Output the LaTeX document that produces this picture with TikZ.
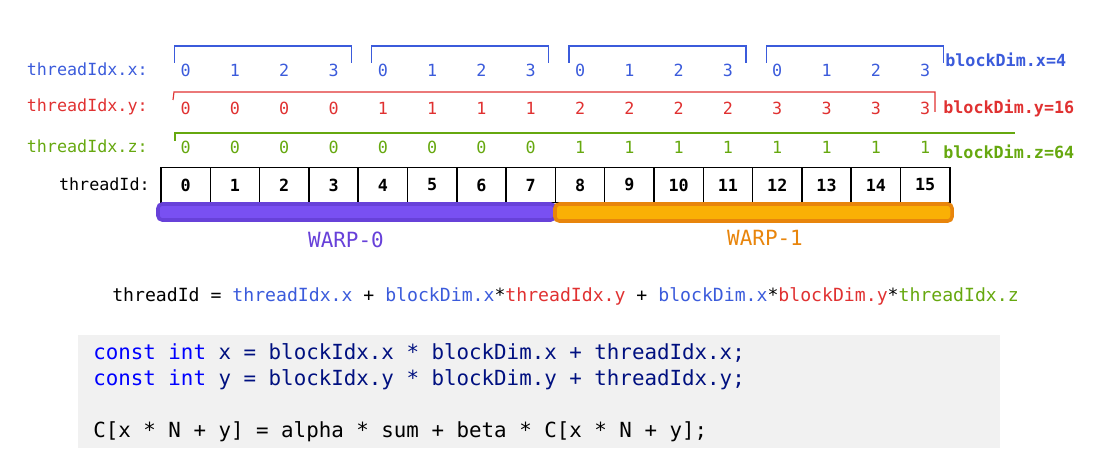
\documentclass[tikz,border=0pt]{standalone}
\usepackage{fontspec}
\setmainfont{DejaVu Sans}
\setmonofont{DejaVu Sans Mono}
\definecolor{idxblue}{HTML}{3B5BDB}
\definecolor{idxred}{HTML}{E03131}
\definecolor{idxgreen}{HTML}{66A80F}
\definecolor{warppurple}{HTML}{7950F2}
\definecolor{warppurpledark}{HTML}{6741D9}
\definecolor{warporange}{HTML}{FAB005}
\definecolor{warporangedark}{HTML}{E8850C}
\definecolor{codebg}{HTML}{F1F1F1}
\definecolor{codekw}{HTML}{0000FF}
\definecolor{codetxt}{HTML}{001080}
\newcommand{\rowfont}{\ttfamily\fontsize{11.9}{14}\selectfont}
\newcommand{\codefont}{\ttfamily\fontsize{14.8}{17}\selectfont}
\begin{document}
\begin{tikzpicture}[x=0.025cm, y=-0.025cm, every node/.style={font=\rowfont, inner sep=0pt},
  rowlabel/.style={anchor=east},
  dimlabel/.style={anchor=west, font=\rowfont\bfseries},
  cell/.style={draw=black, line width=1.1pt, fill=white, minimum width=1.2325cm, minimum height=0.875cm, font=\rowfont\bfseries},
  warplabel/.style={font=\ttfamily\fontsize{14.9}{17}\selectfont},
  codeline/.style={anchor=base west, font=\codefont, text=codetxt}]
  \useasboundingbox (0,0) rectangle (1107,466);

  % row labels
  \node[rowlabel, idxblue] (lblx) at (148,69) {threadIdx.x:};
  \node[rowlabel, idxred] (lbly) at (148,107) {threadIdx.y:};
  \node[rowlabel, idxgreen] (lblz) at (148,146) {threadIdx.z:};
  \node[rowlabel] (lblid) at (150,184) {threadId:};

  % thread cells and index rows
  \foreach \i in {0,...,15} {
    \pgfmathsetmacro\cx{161+49.3*(\i+0.5)}
    \pgfmathtruncatemacro\vx{mod(\i,4)}
    \pgfmathtruncatemacro\vy{\i/4}
    \pgfmathtruncatemacro\vz{\i/8}
    \node[cell] (cell\i) at (\cx,185) {\i};
    \node[idxblue] (tx\i) at (\cx,70) {\vx};
    \node[idxred] (ty\i) at (\cx,108) {\vy};
    \node[idxgreen] (tz\i) at (\cx,147) {\vz};
  }

  % blockDim.x brackets
  \foreach \g in {0,...,3} {
    \pgfmathsetmacro\xl{161+49.3*(4*\g+0.5)-11}
    \pgfmathsetmacro\xr{161+49.3*(4*\g+3.5)+18}
    \draw[idxblue, thick] (\xl,63) -- (\xl,46) -- (\xr,46) -- (\xr,63);
  }
  % blockDim.y bracket
  \draw[idxred, thick] (173,100) -- (174,92) -- (935,92) -- (935,112);
  % blockDim.z line
  \draw[idxgreen, thick] (175,141) -- (175,133) -- (1015,133);

  \node[dimlabel, idxblue] (dimx) at (945,60) {blockDim.x=4};
  \node[dimlabel, idxred] (dimy) at (943,108) {blockDim.y=16};
  \node[dimlabel, idxgreen] (dimz) at (943,152) {blockDim.z=64};

  % warps
  \draw[fill=warppurple, draw=warppurpledark, line width=2.5pt, rounded corners=3pt] (158,204) rectangle (555,220);
  \draw[fill=warporange, draw=warporangedark, line width=2.5pt, rounded corners=3pt] (555,204) rectangle (952,221);
  \node[warplabel, warppurpledark] (warp0) at (346,240) {WARP-0};
  \node[warplabel, warporangedark] (warp1) at (765,238) {WARP-1};

  % formula
  \node[anchor=west, font=\ttfamily\fontsize{12.9}{15}\selectfont] (formula) at (112,296)
    {threadId = \textcolor{idxblue}{threadIdx.x} + \textcolor{idxblue}{blockDim.x}*\textcolor{idxred}{threadIdx.y} + \textcolor{idxblue}{blockDim.x}*\textcolor{idxred}{blockDim.y}*\textcolor{idxgreen}{threadIdx.z}};

  % code
  \fill[codebg] (78,335) rectangle (1000,448);
  \node[codeline] (code1) at (93,359) {\textcolor{codekw}{const int} x = blockIdx.x * blockDim.x + threadIdx.x;};
  \node[codeline] (code2) at (93,385) {\textcolor{codekw}{const int} y = blockIdx.y * blockDim.y + threadIdx.y;};
  \node[codeline, text=black] (code3) at (93,437) {C[x * N + y] = alpha * sum + beta * C[x * N + y];};
\end{tikzpicture}
\end{document}
